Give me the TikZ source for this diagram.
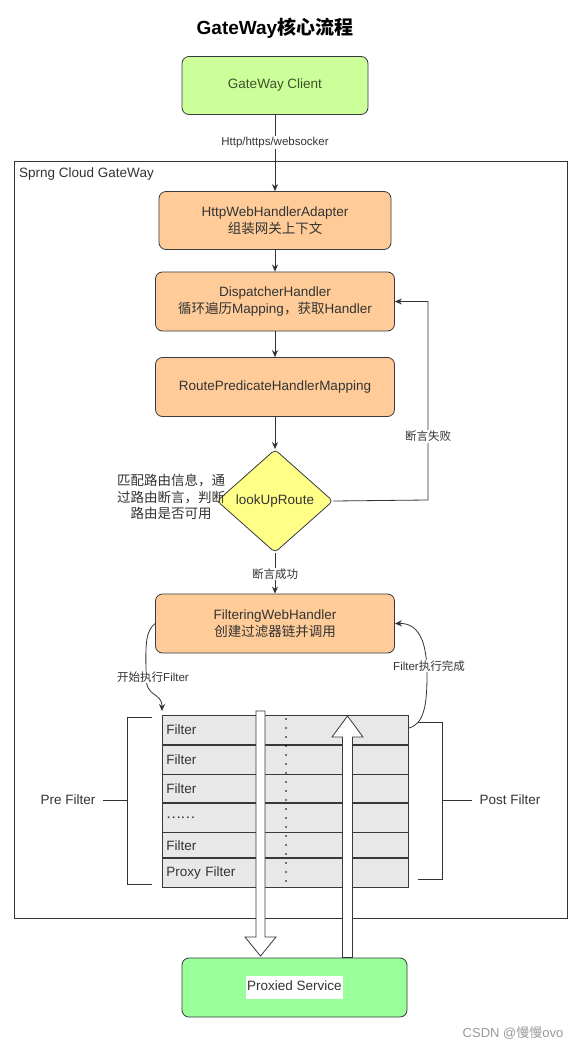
\documentclass[tikz,border=0pt]{standalone}
\usepackage{fontspec}
\setmainfont{Liberation Sans}
\newfontfamily\cjk{Noto Sans CJK SC}
\usetikzlibrary{shapes.geometric,arrows.meta}
\newcommand{\zh}[1]{{\cjk #1}}
\definecolor{cgreen}{HTML}{CCFF99}
\definecolor{pgreen}{HTML}{99FF99}
\definecolor{corange}{HTML}{FFCC99}
\definecolor{cyel}{HTML}{FFFF88}
\definecolor{cgray}{HTML}{E8E8E8}
\definecolor{lnc}{HTML}{36393D}
\definecolor{txt}{HTML}{333333}
\definecolor{gtxt}{HTML}{3D5229}
\definecolor{wm}{HTML}{999999}
\begin{document}
\begin{tikzpicture}[x=1pt,y=-1pt,
  base/.style={font=\fontsize{13.5}{16.5}\selectfont, text=txt},
  box/.style={base, draw=lnc, line width=0.8pt, rounded corners=7pt, align=center, inner sep=0pt},
  obox/.style={box, fill=corange, minimum width=239pt, minimum height=59pt},
  row/.style={base, draw=lnc, line width=0.6pt, fill=cgray, anchor=north west,
     minimum width=246pt, text width=238pt, inner xsep=4pt, inner ysep=0pt, align=left},
  arr/.style={draw=txt, line width=0.8pt, -{Stealth[length=7pt,width=6pt]}},
  lbl/.style={font=\fontsize{11.5}{13}\selectfont, text=txt, fill=white, inner sep=1pt},
  hollow/.style={draw=lnc, line width=0.8pt, fill=white},
  brk/.style={draw=txt, line width=0.7pt}
]
\useasboundingbox (0,0) rectangle (583,1048);
\fill[white] (0,0) rectangle (583,1048);

% title
\node[font=\fontsize{19}{22}\selectfont\bfseries, text=black] (title) at (275,28) {GateWay\zh{核心流程}};

% container
\draw[draw=txt, line width=0.8pt] (14,161) rectangle (567,918);
\node[base, anchor=west, inner sep=0pt] (cname) at (19,174) {Sprng Cloud GateWay};

% nodes
\node[box, fill=cgreen, text=gtxt, minimum width=186pt, minimum height=58pt] (client) at (275,85.5) {GateWay Client};
\node[obox, minimum width=232pt, minimum height=58pt] (hwha) at (275,220.5) {HttpWebHandlerAdapter\\\zh{组装网关上下文}};
\node[obox] (disp) at (275,301.5) {DispatcherHandler\\\zh{循环遍历}Mapping\zh{，获取}Handler};
\node[obox] (rphm) at (275,387) {RoutePredicateHandlerMapping};
\node[base, draw=lnc, line width=0.8pt, fill=cyel, diamond, minimum width=116pt, minimum height=103pt, inner sep=0pt, rounded corners=4pt] (look) at (275,501) {lookUpRoute};
\node[base, align=center, font=\fontsize{13.5}{16.5}\selectfont\cjk] (lookdesc) at (171,497) {匹配路由信息，通\\过路由断言，判断\\路由是否可用};
\node[obox] (fwh) at (275,623.5) {FilteringWebHandler\\\zh{创建过滤器链并调用}};
\node[box, fill=pgreen, minimum width=225pt, minimum height=59pt] (proxied) at (294.5,987.5) {\colorbox{white}{\kern-2pt\strut Proxied Service\kern-2pt}};

% connectors
\draw[arr] (client) -- node[lbl, pos=0.36] {Http/https/websocker} (hwha);
\draw[arr] (hwha) -- (disp);
\draw[arr] (disp) -- (rphm);
\draw[arr] (rphm) -- (look);
\coordinate (fr) at (428,500);
\draw[arr] (look.east) -- (fr) -- node[lbl, pos=0.32] {\zh{断言失败}} (fr |- disp.east) -- (disp.east);
\draw[arr] (look) -- node[lbl, pos=0.52] {\zh{断言成功}} (fwh);

% table
\node[row, minimum height=29pt] (r1) at (162,715) {Filter};
\node[row, minimum height=29pt] (r2) at (r1.south west) {Filter};
\node[row, minimum height=28pt] (r3) at (r2.south west) {Filter};
\node[row, minimum height=29pt] (r4) at (r3.south west) {\zh{……}};
\node[row, minimum height=25pt] (r5) at (r4.south west) {Filter};
\node[row, minimum height=29pt] (r6) at (r5.south west) {Proxy Filter};
\draw[draw=black, line width=1.6pt, line cap=round, dash pattern=on 0pt off 9pt] (286,719) -- (286,884);

% curved arrows
\coordinate (ft) at (162,711);
\draw[arr] (fwh.west) .. controls (144,632) and (146,650) .. (146,677) .. controls (146,698) and (162,692) .. (ft);
\node[lbl] (startf) at (153,677) {\zh{开始执行}Filter};
\coordinate (fs) at (409,728);
\draw[arr] (fs) .. controls (424,724) and (427,705) .. (427,675) .. controls (427,640) and (418,623) .. (fwh.east);
\node[lbl] (donef) at (429,666) {Filter\zh{执行完成}};

% brackets
\node[base] (pre) at (68,800) {Pre Filter};
\draw[brk] (152,717) -- (127.5,717) -- (127.5,884) -- (152,884);
\draw[brk] (pre.east) ++(4,0) -- (127.5,800);
\node[base] (post) at (510,800) {Post Filter};
\draw[brk] (418,722) -- (442,722) -- (442,879) -- (418,879);
\draw[brk] (442,800) -- ([xshift=-4pt]post.west);

% hollow arrows
\draw[hollow] (256,711) -- (265,711) -- (265,937) -- (276,937) -- (260.5,956) -- (245,937) -- (256,937) -- cycle;
\draw[hollow] (342.5,957.5) -- (352.5,957.5) -- (352.5,737) -- (363,737) -- (347.5,716) -- (332,737) -- (342.5,737) -- cycle;

% watermark
\node[font=\fontsize{13}{15}\selectfont, text=wm] (wmark) at (513,1033) {CSDN @\zh{慢慢}ovo};
\end{tikzpicture}
\end{document}
